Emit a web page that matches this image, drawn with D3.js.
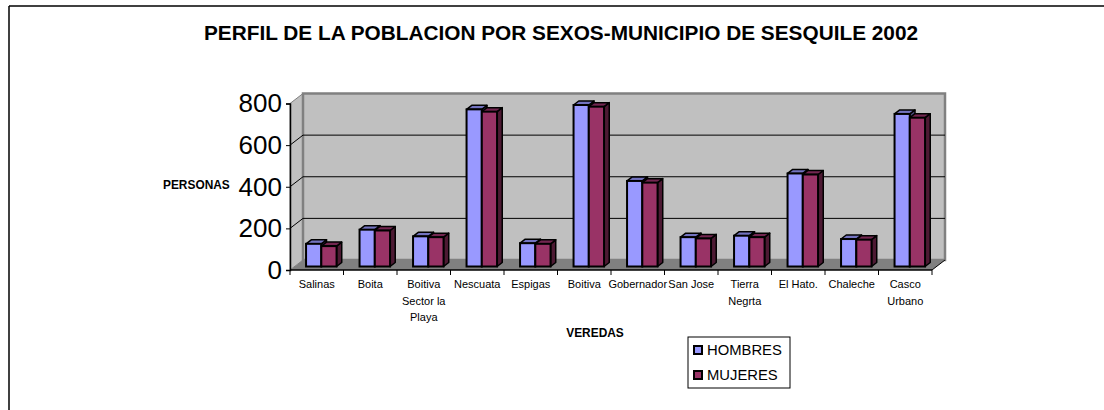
<!DOCTYPE html>
<html>
<head>
<meta charset="utf-8">
<script src="https://cdn.jsdelivr.net/npm/d3@7"></script>
<style>
  body { margin: 0; background: #fff; }
  text { font-family: Arial, "Liberation Sans", sans-serif; }
</style>
</head>
<body>
<div id="chart-holder"></div>
<script>
// ****DATA****
const veredas = ["Salinas", "Boita", "Boitiva Sector la Playa", "Nescuata", "Espigas", "Boitiva",
                 "Gobernador", "San Jose", "Tierra Negrta", "El Hato.", "Chaleche", "Casco Urbano"];
const hombres = [109, 177, 145, 755, 112, 776, 411, 141, 148, 447, 132, 733];
const mujeres = [98, 173, 141, 744, 109, 768, 403, 135, 141, 442, 129, 715];
const yTicks = [0, 200, 400, 600, 800];
const seriesNames = ["HOMBRES", "MUJERES"];

// ****CANVAS****
const width = 1104;
const height = 410;
const svg = d3.select('#chart-holder').append('svg')
    .attr('width', width)
    .attr('height', height);

// outer frame (top + left only visible)
svg.append('line').attr('x1', 9).attr('y1', 6).attr('x2', width).attr('y2', 6)
    .attr('stroke', '#000').attr('stroke-width', 1.5);
svg.append('line').attr('x1', 9).attr('y1', 6).attr('x2', 9).attr('y2', height)
    .attr('stroke', '#000').attr('stroke-width', 1.5);

svg.append('text')
    .attr('x', 561).attr('y', 40)
    .attr('text-anchor', 'middle')
    .style('font-weight', 'bold')
    .style('font-size', '20.8px')
    .text('PERFIL DE LA POBLACION POR SEXOS-MUNICIPIO DE SESQUILE 2002');

// ****SCALES****
const plotLeft = 290, plotRight = 932;
const xScale = d3.scaleBand().domain(veredas).range([plotLeft, plotRight]);
const yScale = d3.scaleLinear().domain([0, 800]).range([270, 103.5]);
const depthX = 13, depthY = -10;   // oblique offset of the back wall
const bw = xScale.bandwidth();
const groupW = bw * 0.57;
const xSub = d3.scaleBand().domain(seriesNames).range([(bw - groupW) / 2, (bw + groupW) / 2]);

// project a point (x,y in front plane) at depth z (0 front .. 1 back)
function proj(x, y, z) { return [x + depthX * z, y + depthY * z]; }
function pts(arr) { return arr.map(p => p.join(',')).join(' '); }

const y0 = yScale(0), yTop = yScale(800);

// ****WALLS****
// floor
svg.append('polygon')
    .attr('points', pts([proj(plotLeft, y0, 0), proj(plotRight, y0, 0), proj(plotRight, y0, 1), proj(plotLeft, y0, 1)]))
    .attr('fill', '#808080');
// left wall
svg.append('polygon')
    .attr('points', pts([proj(plotLeft, y0, 0), proj(plotLeft, yTop, 0), proj(plotLeft, yTop, 1), proj(plotLeft, y0, 1)]))
    .attr('fill', '#c0c0c0')
    .attr('stroke', '#808080').attr('stroke-width', 1);
// back wall
const bl = proj(plotLeft, yTop, 1), br = proj(plotRight, y0, 1);
svg.append('rect')
    .attr('x', bl[0]).attr('y', bl[1])
    .attr('width', br[0] - bl[0]).attr('height', br[1] - bl[1])
    .attr('fill', '#c0c0c0')
    .attr('stroke', '#808080').attr('stroke-width', 2.5);

// gridlines on walls
yTicks.filter(t => t > 0 && t < 800).forEach(function(t) {
    const a = proj(plotLeft, yScale(t), 0), b = proj(plotLeft, yScale(t), 1), c = proj(plotRight, yScale(t), 1);
    svg.append('polyline')
        .attr('points', pts([a, b, c]))
        .attr('fill', 'none')
        .attr('stroke', '#000').attr('stroke-width', 1);
});
// floor right edge
svg.append('line')
    .attr('x1', plotRight).attr('y1', y0)
    .attr('x2', proj(plotRight, y0, 1)[0]).attr('y2', proj(plotRight, y0, 1)[1])
    .attr('stroke', '#000').attr('stroke-width', 1);

// ****AXES****
const yAxis = svg.append('g')
    .attr('transform', `translate(${plotLeft},0)`)
    .call(d3.axisLeft(yScale).tickValues(yTicks).tickSize(4).tickPadding(4));
yAxis.select('.domain').attr('stroke', '#000').attr('stroke-width', 1.5);
yAxis.selectAll('text').style('font-size', '26px').attr('fill', '#000')
    .style('font-family', 'Arial, "Liberation Sans", sans-serif');

const xAxis = svg.append('g')
    .attr('transform', `translate(0,${y0})`);
xAxis.append('line').attr('x1', plotLeft).attr('x2', plotRight)
    .attr('stroke', '#000').attr('stroke-width', 1.5);
xAxis.selectAll('.tk')
    .data(d3.range(veredas.length + 1))
    .enter().append('line')
    .attr('class', 'tk')
    .attr('x1', i => plotLeft + i * bw).attr('x2', i => plotLeft + i * bw)
    .attr('y1', 0).attr('y2', 5)
    .attr('stroke', '#000').attr('stroke-width', 1);

// category labels, wrapped to band width
const catLabels = xAxis.selectAll('.cat')
    .data(veredas)
    .enter().append('text')
    .attr('class', 'cat')
    .attr('text-anchor', 'middle')
    .style('font-size', '11px')
    .attr('fill', '#000');
catLabels.each(function(d) {
    const t = d3.select(this);
    const cx = xScale(d) + bw / 2;
    const words = d.split(' ');
    let lines = [], cur = words[0];
    for (let i = 1; i < words.length; i++) {
        const tryText = cur + ' ' + words[i];
        const probe = t.append('tspan').text(tryText);
        const w = probe.node().getComputedTextLength();
        probe.remove();
        if (w > bw - 2) { lines.push(cur); cur = words[i]; } else { cur = tryText; }
    }
    lines.push(cur);
    lines.forEach(function(l, i) {
        t.append('tspan').attr('x', cx).attr('y', 18 + i * 16.5).text(l);
    });
});

svg.append('text')
    .attr('x', 163).attr('y', 189)
    .style('font-weight', 'bold').style('font-size', '11.9px')
    .text('PERSONAS');
svg.append('text')
    .attr('x', 595).attr('y', 337)
    .attr('text-anchor', 'middle')
    .style('font-weight', 'bold').style('font-size', '11.9px')
    .text('VEREDAS');

// ****BARS****
const colors = {
    HOMBRES: { front: '#9999ff', top: '#7373c0', side: '#4d4d80' },
    MUJERES: { front: '#993366', top: '#732650', side: '#4d1a33' }
};
const zFront = 0.35, zBack = 0.75;
const barsData = [];
veredas.forEach(function(v, i) {
    barsData.push({ cat: v, s: 'HOMBRES', value: hombres[i] });
    barsData.push({ cat: v, s: 'MUJERES', value: mujeres[i] });
});
const barW = xSub.bandwidth();
const barG = svg.append('g').attr('id', 'bars');
barsData.forEach(function(d) {
    const xl = xScale(d.cat) + xSub(d.s), xr = xl + barW;
    const yt = yScale(d.value);
    const c = colors[d.s];
    const g = barG.append('g');
    // side face
    g.append('polygon')
        .attr('points', pts([proj(xr, y0, zFront), proj(xr, yt, zFront), proj(xr, yt, zBack), proj(xr, y0, zBack)]))
        .attr('fill', c.side).attr('stroke', '#000').attr('stroke-width', 1.5).attr('stroke-linejoin', 'round');
    // top face
    g.append('polygon')
        .attr('points', pts([proj(xl, yt, zFront), proj(xr, yt, zFront), proj(xr, yt, zBack), proj(xl, yt, zBack)]))
        .attr('fill', c.top).attr('stroke', '#000').attr('stroke-width', 1.5).attr('stroke-linejoin', 'round');
    // front face
    const p = proj(xl, yt, zFront);
    g.append('rect')
        .attr('x', p[0]).attr('y', p[1])
        .attr('width', barW).attr('height', y0 - yt)
        .attr('fill', c.front).attr('stroke', '#000').attr('stroke-width', 2);
});

// ****LEGEND****
const legend = svg.append('g').attr('transform', 'translate(688,337)');
legend.append('rect').attr('width', 102).attr('height', 51)
    .attr('fill', '#fff').attr('stroke', '#000').attr('stroke-width', 1);
seriesNames.forEach(function(s, i) {
    legend.append('rect')
        .attr('x', 6).attr('y', 9 + i * 25)
        .attr('width', 8).attr('height', 8)
        .attr('fill', colors[s].front).attr('stroke', '#000').attr('stroke-width', 2);
    legend.append('text')
        .attr('x', 19).attr('y', 18 + i * 25)
        .style('font-size', '14.8px')
        .text(s);
});
</script>
</body>
</html>
